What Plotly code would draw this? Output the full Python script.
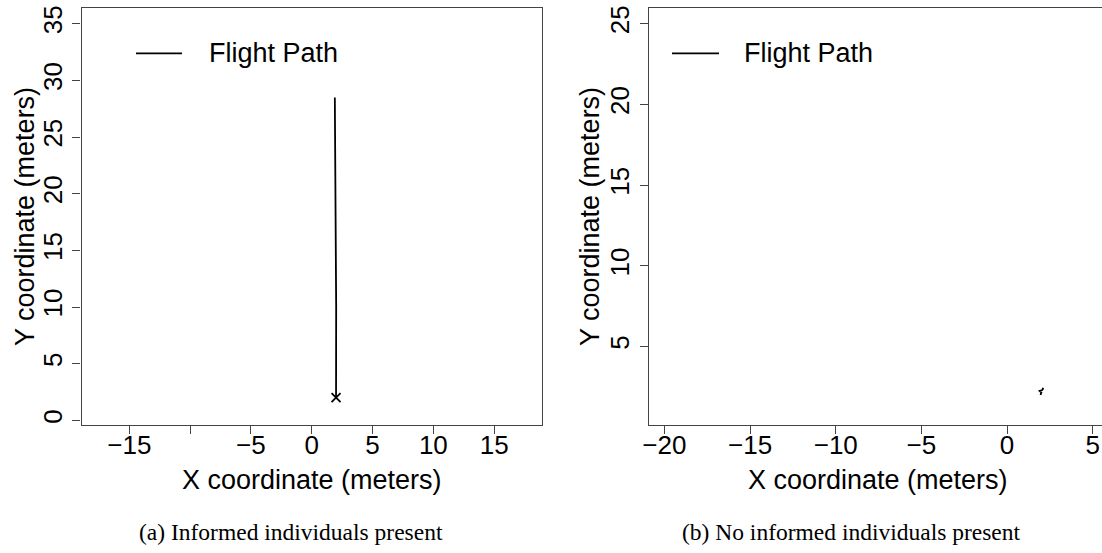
import plotly.graph_objects as go

# Flight path with informed individuals present (panel a)
path_a_x = [2.00, 2.02, 2.01, 1.98, 1.95, 1.92, 1.90]
path_a_y = [2.0, 6.0, 10.0, 15.0, 19.0, 24.0, 28.5]
start_a_x = [2.0]
start_a_y = [2.0]

# Flight path with no informed individuals present (panel b)
path_b_x = [1.95, 2.00, 1.90, 2.05, 2.12, 2.05]
path_b_y = [2.00, 2.15, 2.25, 2.30, 2.42, 2.38]

# Tick marks and labels
xticks_a = [-15, -10, -5, 0, 5, 10, 15]
xticklabels_a = ["\u221215", "", "\u22125", "0", "5", "10", "15"]
yticks_a = [0, 5, 10, 15, 20, 25, 30, 35]
xticks_b = [-20, -15, -10, -5, 0, 5]
xticklabels_b = ["\u221220", "\u221215", "\u221210", "\u22125", "0", "5"]
yticks_b = [5, 10, 15, 20, 25]

legend_label = "Flight Path"
x_title = "X coordinate (meters)"
y_title = "Y coordinate (meters)"
caption_a = "(a) Informed individuals present"
caption_b = "(b) No informed individuals present"

W, H = 1102, 553
SANS = "Liberation Sans, Arial, Helvetica, sans-serif"
SERIF = "Liberation Serif, Times New Roman, serif"
AX = "#444444"


def px(x):
    return x / W


def py(y):
    return 1 - y / H


fig = go.Figure()
fig.add_trace(go.Scatter(x=path_a_x, y=path_a_y, mode="lines",
                         line=dict(color="black", width=1.8),
                         xaxis="x", yaxis="y", showlegend=False, name=legend_label))
fig.add_trace(go.Scatter(x=start_a_x, y=start_a_y, mode="markers",
                         marker=dict(symbol="x-thin-open", size=9, color="black",
                                     line=dict(color="black", width=1.8)),
                         xaxis="x", yaxis="y", showlegend=False))
fig.add_trace(go.Scatter(x=path_b_x, y=path_b_y, mode="lines",
                         line=dict(color="black", width=1.8),
                         xaxis="x2", yaxis="y2", showlegend=False, name=legend_label))

axis_common = dict(showgrid=False, zeroline=False, showline=True, linecolor=AX,
                   linewidth=1.3, ticks="outside", ticklen=8, tickwidth=1.3,
                   tickcolor=AX, automargin=False,
                   tickfont=dict(family=SANS, size=26, color="black"))

fig.update_layout(
    template="none",
    width=W, height=H,
    margin=dict(l=0, r=0, t=0, b=0, pad=0, autoexpand=False),
    paper_bgcolor="white", plot_bgcolor="white",
    showlegend=False,
    xaxis=dict(domain=[px(81.5), px(541.7)], range=[-18.93, 18.91],
               tickmode="array", tickvals=xticks_a, ticktext=xticklabels_a,
               ticklabelstandoff=-12, mirror=True, anchor="y", **axis_common),
    yaxis=dict(domain=[py(425.3), py(8)], range=[-0.44, 36.39],
               tickmode="array", tickvals=yticks_a, tickangle=-90,
               mirror=True, anchor="x", **axis_common),
    xaxis2=dict(domain=[px(649), 1.0], range=[-20.9, 5.54],
                tickmode="array", tickvals=xticks_b, ticktext=xticklabels_b,
                ticklabelstandoff=-12, mirror=True, anchor="y2", **axis_common),
    yaxis2=dict(domain=[py(425.3), py(8)], range=[0.12, 25.97],
                tickmode="array", tickvals=yticks_b, tickangle=-90,
                mirror=False, anchor="x2", **axis_common),
)

# Legend keys drawn in each panel
for x0, x1, tx in [(136, 182, 207), (672, 719, 742)]:
    fig.add_shape(type="line", xref="paper", yref="paper",
                  x0=px(x0), x1=px(x1), y0=py(53.3), y1=py(53.3),
                  line=dict(color="black", width=1.8))
    fig.add_annotation(text=legend_label, xref="paper", yref="paper",
                       x=px(tx), y=py(53.3), xanchor="left", yanchor="middle",
                       showarrow=False, font=dict(family=SANS, size=27, color="black"))

# Axis titles
for cx in [311.6, 878]:
    fig.add_annotation(text=x_title, xref="paper", yref="paper",
                       x=px(cx), y=py(480), xanchor="center", yanchor="middle",
                       showarrow=False, font=dict(family=SANS, size=27, color="black"))
for cx in [25, 590]:
    fig.add_annotation(text=y_title, xref="paper", yref="paper",
                       x=px(cx), y=py(217), xanchor="center", yanchor="middle",
                       textangle=-90, showarrow=False,
                       font=dict(family=SANS, size=27, color="black"))

# Sub-figure captions
for cx, cap in [(290.5, caption_a), (851.5, caption_b)]:
    fig.add_annotation(text=cap, xref="paper", yref="paper",
                       x=px(cx), y=py(532), xanchor="center", yanchor="middle",
                       showarrow=False, font=dict(family=SERIF, size=23.5, color="black"))

fig.write_html("out.html")
